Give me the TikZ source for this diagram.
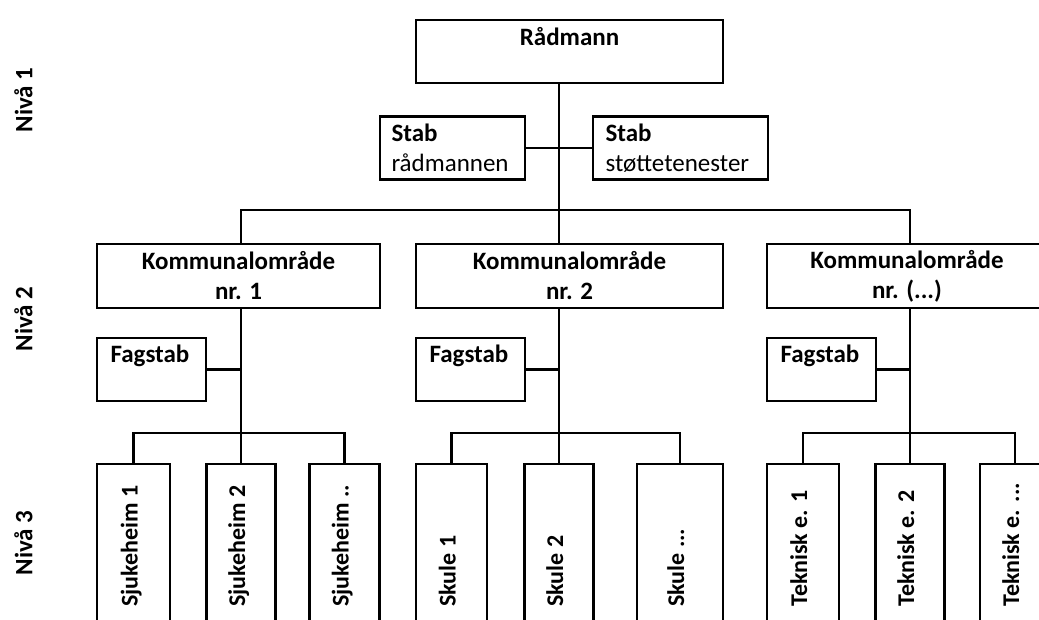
\documentclass[tikz,border=0pt]{standalone}
\usepackage{fontspec}
\setmainfont{Carlito}
\begin{document}
\begin{tikzpicture}[x=1pt,y=-1pt,
  every node/.style={font=\fontsize{25}{30}\selectfont},
  box/.style={draw, line width=2.3pt, inner sep=0pt, outer sep=0pt, minimum height=63pt},
  title/.style={box, align=center, font=\fontsize{25}{30}\selectfont\bfseries},
  headbox/.style={box, text height=17pt, text depth=30pt, font=\fontsize{25}{30}\selectfont\bfseries},
  stabbox/.style={box, align=left},
  fagbox/.style={box, minimum width=109pt, inner xsep=13.5pt, text width=82pt,
    text height=17pt, text depth=31pt, font=\fontsize{25}{30}\selectfont\bfseries},
  unit/.style={draw, line width=2.3pt, inner sep=0pt, outer sep=0pt, minimum height=176pt},
  unittext/.style={rotate=90, anchor=base west, inner sep=0pt, font=\fontsize{24}{29}\selectfont\bfseries},
  level/.style={rotate=90, inner sep=0pt, font=\fontsize{25}{30}\selectfont\bfseries},
  link/.style={line width=2.3pt}]
\useasboundingbox (0,0) rectangle (1039,619);
\clip (0,0) rectangle (1039,619);

% level captions
\node[level] (n1) at (23.5,100) {Nivå 1};
\node[level] (n2) at (23.5,319) {Nivå 2};
\node[level] (n3) at (23.5,543) {Nivå 3};

% level 1
\node[headbox, minimum width=307pt] (R) at (569.5,51.5) {Rådmann};
\node[stabbox, minimum width=145pt, inner xsep=11.5pt, text width=122pt] (SR) at (452.5,148)
  {\textbf{Stab}\\rådmannen};
\node[stabbox, minimum width=175pt, inner xsep=12.5pt, text width=150pt] (SS) at (680.5,148)
  {\textbf{Stab}\\støttetenester};

% level 2
\node[title, minimum width=283pt, minimum height=64pt] (K1) at (238.5,276) {Kommunalområde\\nr. 1};
\node[title, minimum width=307pt, minimum height=64pt] (K2) at (569.5,276) {Kommunalområde\\nr. 2};
\node[title, minimum width=280pt, minimum height=64pt] (K3) at (907,276) {Kommunalområde\\nr. (...)};
\node[fagbox] (F1) at (151.5,369.5) {Fagstab};
\node[fagbox] (F2) at (470.5,369.5) {Fagstab};
\node[fagbox] (F3) at (821.5,369.5) {Fagstab};

% level 3 boxes
\node[unit, minimum width=73pt] (S1) at (133.5,552) {};
\node[unit, minimum width=69pt] (S2) at (241,552) {};
\node[unit, minimum width=70pt] (S3) at (344.5,552) {};
\node[unit, minimum width=71pt] (U1) at (451.5,552) {};
\node[unit, minimum width=69pt] (U2) at (559,552) {};
\node[unit, minimum width=86pt] (U3) at (680,552) {};
\node[unit, minimum width=72pt] (T1) at (803,552) {};
\node[unit, minimum width=69pt] (T2) at (910,552) {};
\node[unit, minimum width=70pt] (T3) at (1015,552) {};

% level 3 captions
\node[unittext] (S1t) at (137.5,607) {Sjukeheim 1};
\node[unittext] (S2t) at (245,607) {Sjukeheim 2};
\node[unittext] (S3t) at (348.5,607) {Sjukeheim ..};
\node[unittext] (U1t) at (455.5,607) {Skule 1};
\node[unittext] (U2t) at (563,607) {Skule 2};
\node[unittext] (U3t) at (684,607) {Skule ...};
\node[unittext] (T1t) at (807,607) {Teknisk e. 1};
\node[unittext] (T2t) at (914,607) {Teknisk e. 2};
\node[unittext] (T3t) at (1019,607) {Teknisk e. ...};

% bus levels
\coordinate (topbus) at (0,210);
\coordinate (lowbus) at (0,433);

% connectors
\draw[link] (R.south -| U2.north) -- (K2.north -| U2.north);
\draw[link] (SR.east) -- (SS.west);
\draw[link] (K1.north -| S2.north) |- (topbus -| T2.north) -- (K3.north -| T2.north);

\draw[link] (K1.south -| S2.north) -- (S2.north);
\draw[link] (K2.south -| U2.north) -- (U2.north);
\draw[link] (K3.south -| T2.north) -- (T2.north);

\draw[link] (F1.east) -- (F1.east -| S2.north);
\draw[link] (F2.east) -- (F2.east -| U2.north);
\draw[link] (F3.east) -- (F3.east -| T2.north);

\draw[link] (S1.north) |- (lowbus -| S3.north) -- (S3.north);
\draw[link] (U1.north) |- (lowbus -| U3.north) -- (U3.north);
\draw[link] (T1.north) |- (lowbus -| T3.north) -- (T3.north);
\end{tikzpicture}
\end{document}
